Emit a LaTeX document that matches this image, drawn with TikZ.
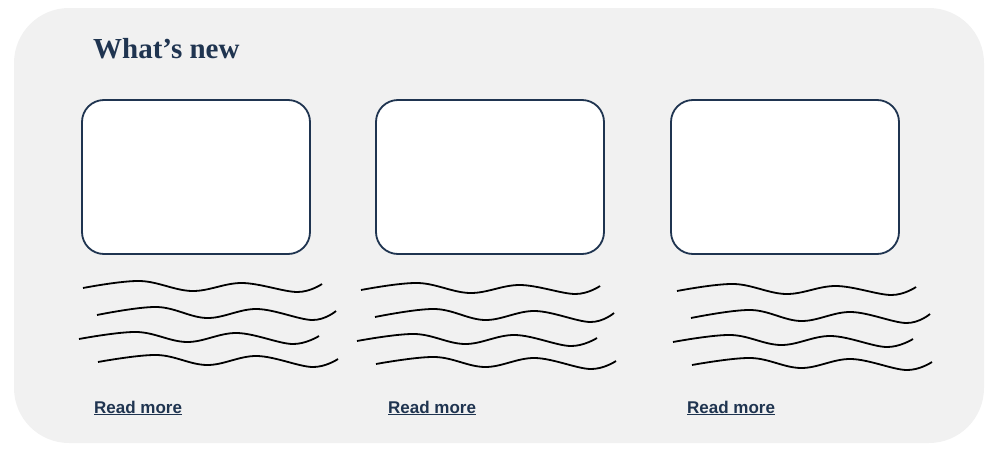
\documentclass[tikz,border=0pt]{standalone}
\usepackage{fontspec}
\setmainfont{Liberation Serif}
\setsansfont{Liberation Sans}
\definecolor{navy}{HTML}{1F3450}
\definecolor{bg}{HTML}{F1F1F1}
\begin{document}
\begin{tikzpicture}[x=1pt,y=-1pt,
  card/.style={draw=navy,line width=1.8pt,fill=white,rounded corners=22pt},
  wave/.style={line width=1.8pt,black},
  link/.style={anchor=base west,font=\sffamily\bfseries\fontsize{17}{20}\selectfont,text=navy,inner sep=0pt}]
\useasboundingbox (0,0) rectangle (997,450);
\fill[bg,rounded corners=55pt] (14,8) rectangle (984,443);
\node[anchor=base west,inner sep=0pt,text=navy,font=\bfseries\fontsize{29}{33}\selectfont] (title) at (93,58) {What’s new};
\foreach \x/\w/\dy/\n in {82/0/0/a,376/-16/2/b,671/5/3/c}{
  \draw[card] (\x,100) rectangle (\x+228,254);
  \begin{scope}[shift={(\x+\w,\dy)}]
  \draw[wave] plot[smooth,tension=0.6] coordinates {(1,288)(58,281)(110,291)(160,283)(215,292)(240,284)};
  \draw[wave] plot[smooth,tension=0.6] coordinates {(15,315)(75,307)(125,318)(175,309)(230,320)(254,311)};
  \draw[wave] plot[smooth,tension=0.6] coordinates {(-3,339)(55,332)(105,342)(155,333)(210,344)(237,336)};
  \draw[wave] plot[smooth,tension=0.6] coordinates {(16,362)(75,355)(125,365)(175,356)(230,367)(256,359)};
  \end{scope}
}
\node[link] (rma) at (94,413) {\underline{Read more}};
\node[link] (rmb) at (388,413) {\underline{Read more}};
\node[link] (rmc) at (687,413) {\underline{Read more}};
\end{tikzpicture}
\end{document}
